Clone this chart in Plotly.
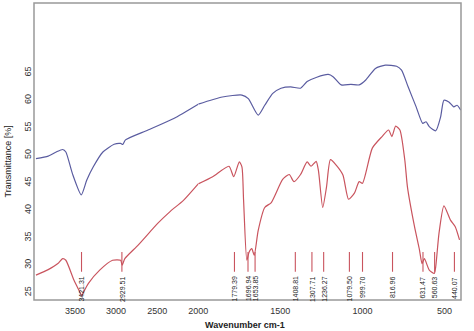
import plotly.graph_objects as go

# FTIR spectra: wavenumber (cm-1) and transmittance (%)
blue_wn = [3976, 3827, 3729, 3651, 3612, 3533, 3424, 3357, 3278, 3161, 3024, 2945,
           2918, 2886, 2612, 2298, 2000, 1853, 1734, 1695, 1635, 1595, 1546, 1496,
           1437, 1377, 1337, 1278, 1208, 1179, 1129, 1070, 1020, 980, 921, 861, 792,
           762, 722, 673, 633, 613, 593, 554, 524, 504, 474, 444, 424, 401]
blue_t = [49.4, 49.85, 50.6, 51.05, 50.6, 46.7, 42.8, 45.5, 47.9, 50.6, 52.0, 52.15,
          51.97, 52.8, 54.6, 56.7, 59.3, 60.6, 60.95, 60.3, 57.3, 59.1, 61.25, 62.2,
          62.45, 62.2, 63.4, 64.2, 64.7, 64.3, 62.8, 62.9, 62.8, 63.7, 65.8, 66.4, 66.2,
          65.5, 62.45, 58.8, 55.8, 56.1, 55.2, 54.45, 57.0, 60.0, 59.7, 58.8, 59.1, 58.2]

red_wn = [3976, 3827, 3709, 3651, 3612, 3514, 3435, 3421, 3404, 3337, 3200, 3043,
          2945, 2926, 2894, 2729, 2494, 2340, 2180, 2000, 1912, 1813, 1784, 1750,
          1734, 1724, 1704, 1690, 1674, 1659, 1635, 1595, 1555, 1486, 1446, 1417,
          1377, 1337, 1313, 1282, 1268, 1242, 1219, 1195, 1160, 1119, 1085, 1049,
          1020, 1000, 940, 881, 841, 821, 798, 772, 742, 726, 683, 653, 637, 623,
          593, 563, 554, 534, 504, 464, 435, 409]
red_t = [28.2, 29.2, 30.3, 31.2, 30.9, 27.3, 24.9, 24.4, 24.9, 26.7, 29.1, 30.9,
         30.9, 30.0, 31.2, 33.7, 37.6, 39.8, 41.8, 44.8, 46.1, 48.0, 46.1, 48.8,
         47.9, 41.9, 30.9, 32.4, 33.0, 31.8, 36.3, 40.5, 41.4, 45.6, 46.5, 45.2,
         46.5, 48.8, 48.0, 48.9, 47.2, 40.5, 44.2, 49.2, 48.2, 46.4, 42.0, 43.1,
         45.2, 44.9, 51.3, 53.4, 54.6, 53.4, 55.3, 54.6, 49.1, 44.2, 37.0, 32.8,
         30.3, 31.2, 29.1, 28.5, 29.7, 35.8, 40.8, 38.2, 37.0, 34.6]

# Labelled peak positions
peaks = [3421.31, 2929.51, 1779.39, 1696.94, 1653.85, 1408.81, 1307.71, 1236.27,
         1079.50, 999.70, 816.96, 631.47, 560.63, 440.07]
peak_mark = [28.8, 32.4]   # transmittance span of each peak marker
peak_label_top = 28.3

x_hi_ticks = [3500, 3000, 2500, 2000]
x_lo_ticks = [1500, 1000, 500]
y_ticks = [25, 30, 35, 40, 45, 50, 55, 60, 65]

BLUE = "#5a5ca0"
RED = "#c9545e"
SPLIT = 2000
FONT = "Liberation Sans"


def split(wn, t):
    hi = [(w, v) for w, v in zip(wn, t) if w >= SPLIT]
    lo = [(w, v) for w, v in zip(wn, t) if w <= SPLIT]
    return hi, lo


fig = go.Figure()
for wn, t, col in [(blue_wn, blue_t, BLUE), (red_wn, red_t, RED)]:
    hi, lo = split(wn, t)
    for seg, xa in [(hi, "x"), (lo, "x2")]:
        fig.add_trace(go.Scatter(
            x=[p[0] for p in seg], y=[p[1] for p in seg], xaxis=xa, yaxis="y",
            mode="lines", line=dict(color=col, width=1.2, shape="spline",
                                    smoothing=0.6),
            hoverinfo="skip", showlegend=False))

for p in peaks:
    xa = "x" if p >= SPLIT else "x2"
    fig.add_trace(go.Scatter(
        x=[p, p], y=peak_mark, xaxis=xa, yaxis="y", mode="lines",
        line=dict(color=RED, width=1.1), hoverinfo="skip", showlegend=False))
    fig.add_annotation(
        x=p, y=peak_label_top, xref=xa, yref="y", text=f"{p:.2f}",
        textangle=-90, showarrow=False, xanchor="center", yanchor="top",
        font=dict(family=FONT, size=7, color="#222"))

d = 1000 / 2600  # 4000-2000 shown at half the scale of 2000-400
tickfont = dict(family=FONT, size=9, color="#333")
fig.update_layout(
    width=474, height=331,
    margin=dict(l=34, r=3, t=3, b=31),
    paper_bgcolor="white", plot_bgcolor="white",
    xaxis=dict(domain=[0, d], range=[4000, SPLIT], tickvals=x_hi_ticks,
               showgrid=False, zeroline=False, ticks="", tickfont=tickfont,
               ticklabelstandoff=4, anchor="y"),
    xaxis2=dict(domain=[d, 1], range=[SPLIT, 400], tickvals=x_lo_ticks,
                showgrid=False, zeroline=False, ticks="", tickfont=tickfont,
                ticklabelstandoff=4, anchor="y"),
    yaxis=dict(range=[23.67, 77.7], tickvals=y_ticks, tickangle=-90,
               showgrid=False, zeroline=False, ticks="", tickfont=tickfont,
               anchor="x"),
    shapes=[dict(type="rect", xref="paper", yref="paper", x0=0, x1=1, y0=0, y1=1,
                 line=dict(color="#999999", width=1.5))],
    annotations=list(fig.layout.annotations) + [
        dict(text="<b>Wavenumber cm-1</b>", xref="paper", yref="paper",
             x=0.495, y=-0.084, xanchor="center", yanchor="middle",
             showarrow=False, font=dict(family=FONT, size=9, color="#222")),
        dict(text="Transmittance [%]", xref="paper", yref="paper",
             x=-0.062, y=0.465, xanchor="center", yanchor="middle",
             textangle=-90, showarrow=False,
             font=dict(family=FONT, size=9, color="#222")),
    ],
)

fig.write_html("out.html")
